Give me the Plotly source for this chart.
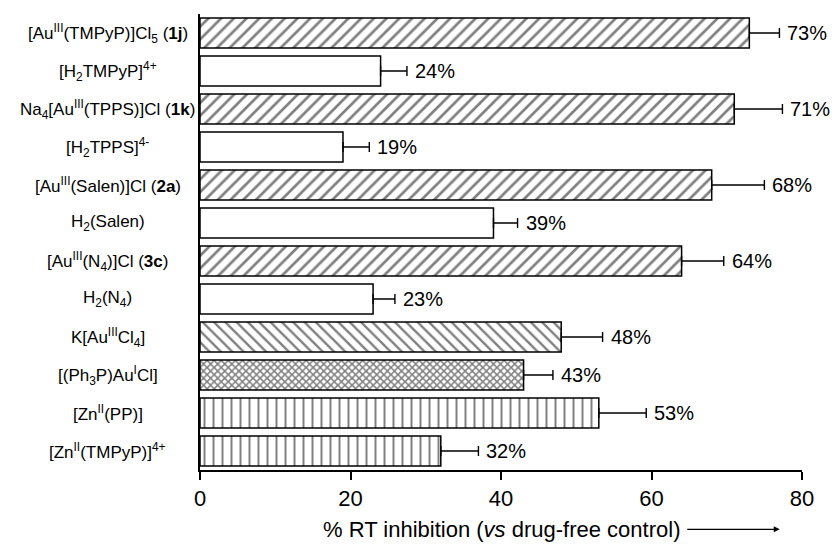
import plotly.graph_objects as go

# Compounds, top to bottom
compounds = [
    "[Au<sup>III</sup>(TMPyP)]Cl<sub>5</sub> (<b>1j</b>)",
    "[H<sub>2</sub>TMPyP]<sup>4+</sup>",
    "Na<sub>4</sub>[Au<sup>III</sup>(TPPS)]Cl (<b>1k</b>)",
    "[H<sub>2</sub>TPPS]<sup>4-</sup>",
    "[Au<sup>III</sup>(Salen)]Cl (<b>2a</b>)",
    "H<sub>2</sub>(Salen)",
    "[Au<sup>III</sup>(N<sub>4</sub>)]Cl (<b>3c</b>)",
    "H<sub>2</sub>(N<sub>4</sub>)",
    "K[Au<sup>III</sup>Cl<sub>4</sub>]",
    "[(Ph<sub>3</sub>P)Au<sup>I</sup>Cl]",
    "[Zn<sup>II</sup>(PP)]",
    "[Zn<sup>II</sup>(TMPyP)]<sup>4+</sup>",
]
# % RT inhibition and its standard deviation
inhibition = [73, 24, 71, 19, 68, 39, 64, 23, 48, 43, 53, 32]
std_dev = [4, 3.5, 6.4, 3.5, 7, 3.2, 5.6, 2.9, 5.5, 3.9, 6.3, 5]
# Hatch used for each compound class
hatch = ["/", "", "/", "", "/", "", "/", "", "\\", "x", "|", "|"]
hatch_size = [9, 9, 9, 9, 9, 9, 9, 9, 8, 5, 9, 9]
hatch_solidity = [0.3, 0.1, 0.3, 0.1, 0.3, 0.1, 0.3, 0.1, 0.3, 0.5, 0.22, 0.22]
x_ticks = [0, 20, 40, 60, 80]

FONT = "Liberation Sans, Arial, sans-serif"
TITLE_Y = -0.13

fig = go.Figure()
fig.add_trace(go.Bar(
    y=compounds,
    x=inhibition,
    orientation="h",
    marker=dict(
        color="white",
        line=dict(color="black", width=1.5),
        pattern=dict(shape=hatch, size=hatch_size, solidity=hatch_solidity,
                     fgcolor="black", bgcolor="white"),
    ),
    error_x=dict(type="data", array=std_dev, arrayminus=[0] * len(std_dev),
                 symmetric=False, color="black", thickness=1.4, width=5),
    showlegend=False,
))

# Value labels just right of each error bar
for name, v, e in zip(compounds, inhibition, std_dev):
    fig.add_annotation(x=v + e, y=name, text=f"{v}%", showarrow=False,
                       xanchor="left", xshift=6,
                       font=dict(family=FONT, size=20, color="black"))

# Compound names, centred in the left margin
for name in compounds:
    fig.add_annotation(x=-0.153, xref="paper", y=name, text=name, showarrow=False,
                       xanchor="center", font=dict(family=FONT, size=17, color="black"))

# Axis title with trailing arrow
fig.add_annotation(x=0.5, xref="paper", y=TITLE_Y, yref="paper",
                   text="% RT inhibition (<i>vs</i> drug-free control)",
                   showarrow=False, xanchor="center", yanchor="middle",
                   font=dict(family=FONT, size=22, color="black"))
fig.add_annotation(x=0.963, xref="paper", y=TITLE_Y, yref="paper",
                   ax=-94, ay=0, axref="pixel", ayref="pixel", text="",
                   showarrow=True, arrowhead=2, arrowsize=1, arrowwidth=1.2,
                   arrowcolor="black")

fig.update_layout(
    width=832, height=546,
    margin=dict(l=200, r=30, t=14, b=76),
    paper_bgcolor="white", plot_bgcolor="white",
    bargap=0.21,
    font=dict(family=FONT, color="black"),
    xaxis=dict(range=[0, 80], tickvals=x_ticks, showgrid=False, zeroline=False,
               showline=True, linecolor="black", linewidth=2,
               ticks="outside", ticklen=8, tickwidth=2, tickcolor="black",
               tickfont=dict(family=FONT, size=22, color="black")),
    yaxis=dict(categoryorder="array", categoryarray=compounds,
               range=[11.5, -0.5], showticklabels=False, showgrid=False,
               zeroline=False, showline=True, linecolor="black", linewidth=2,
               ticks=""),
)

fig.write_html("out.html")
